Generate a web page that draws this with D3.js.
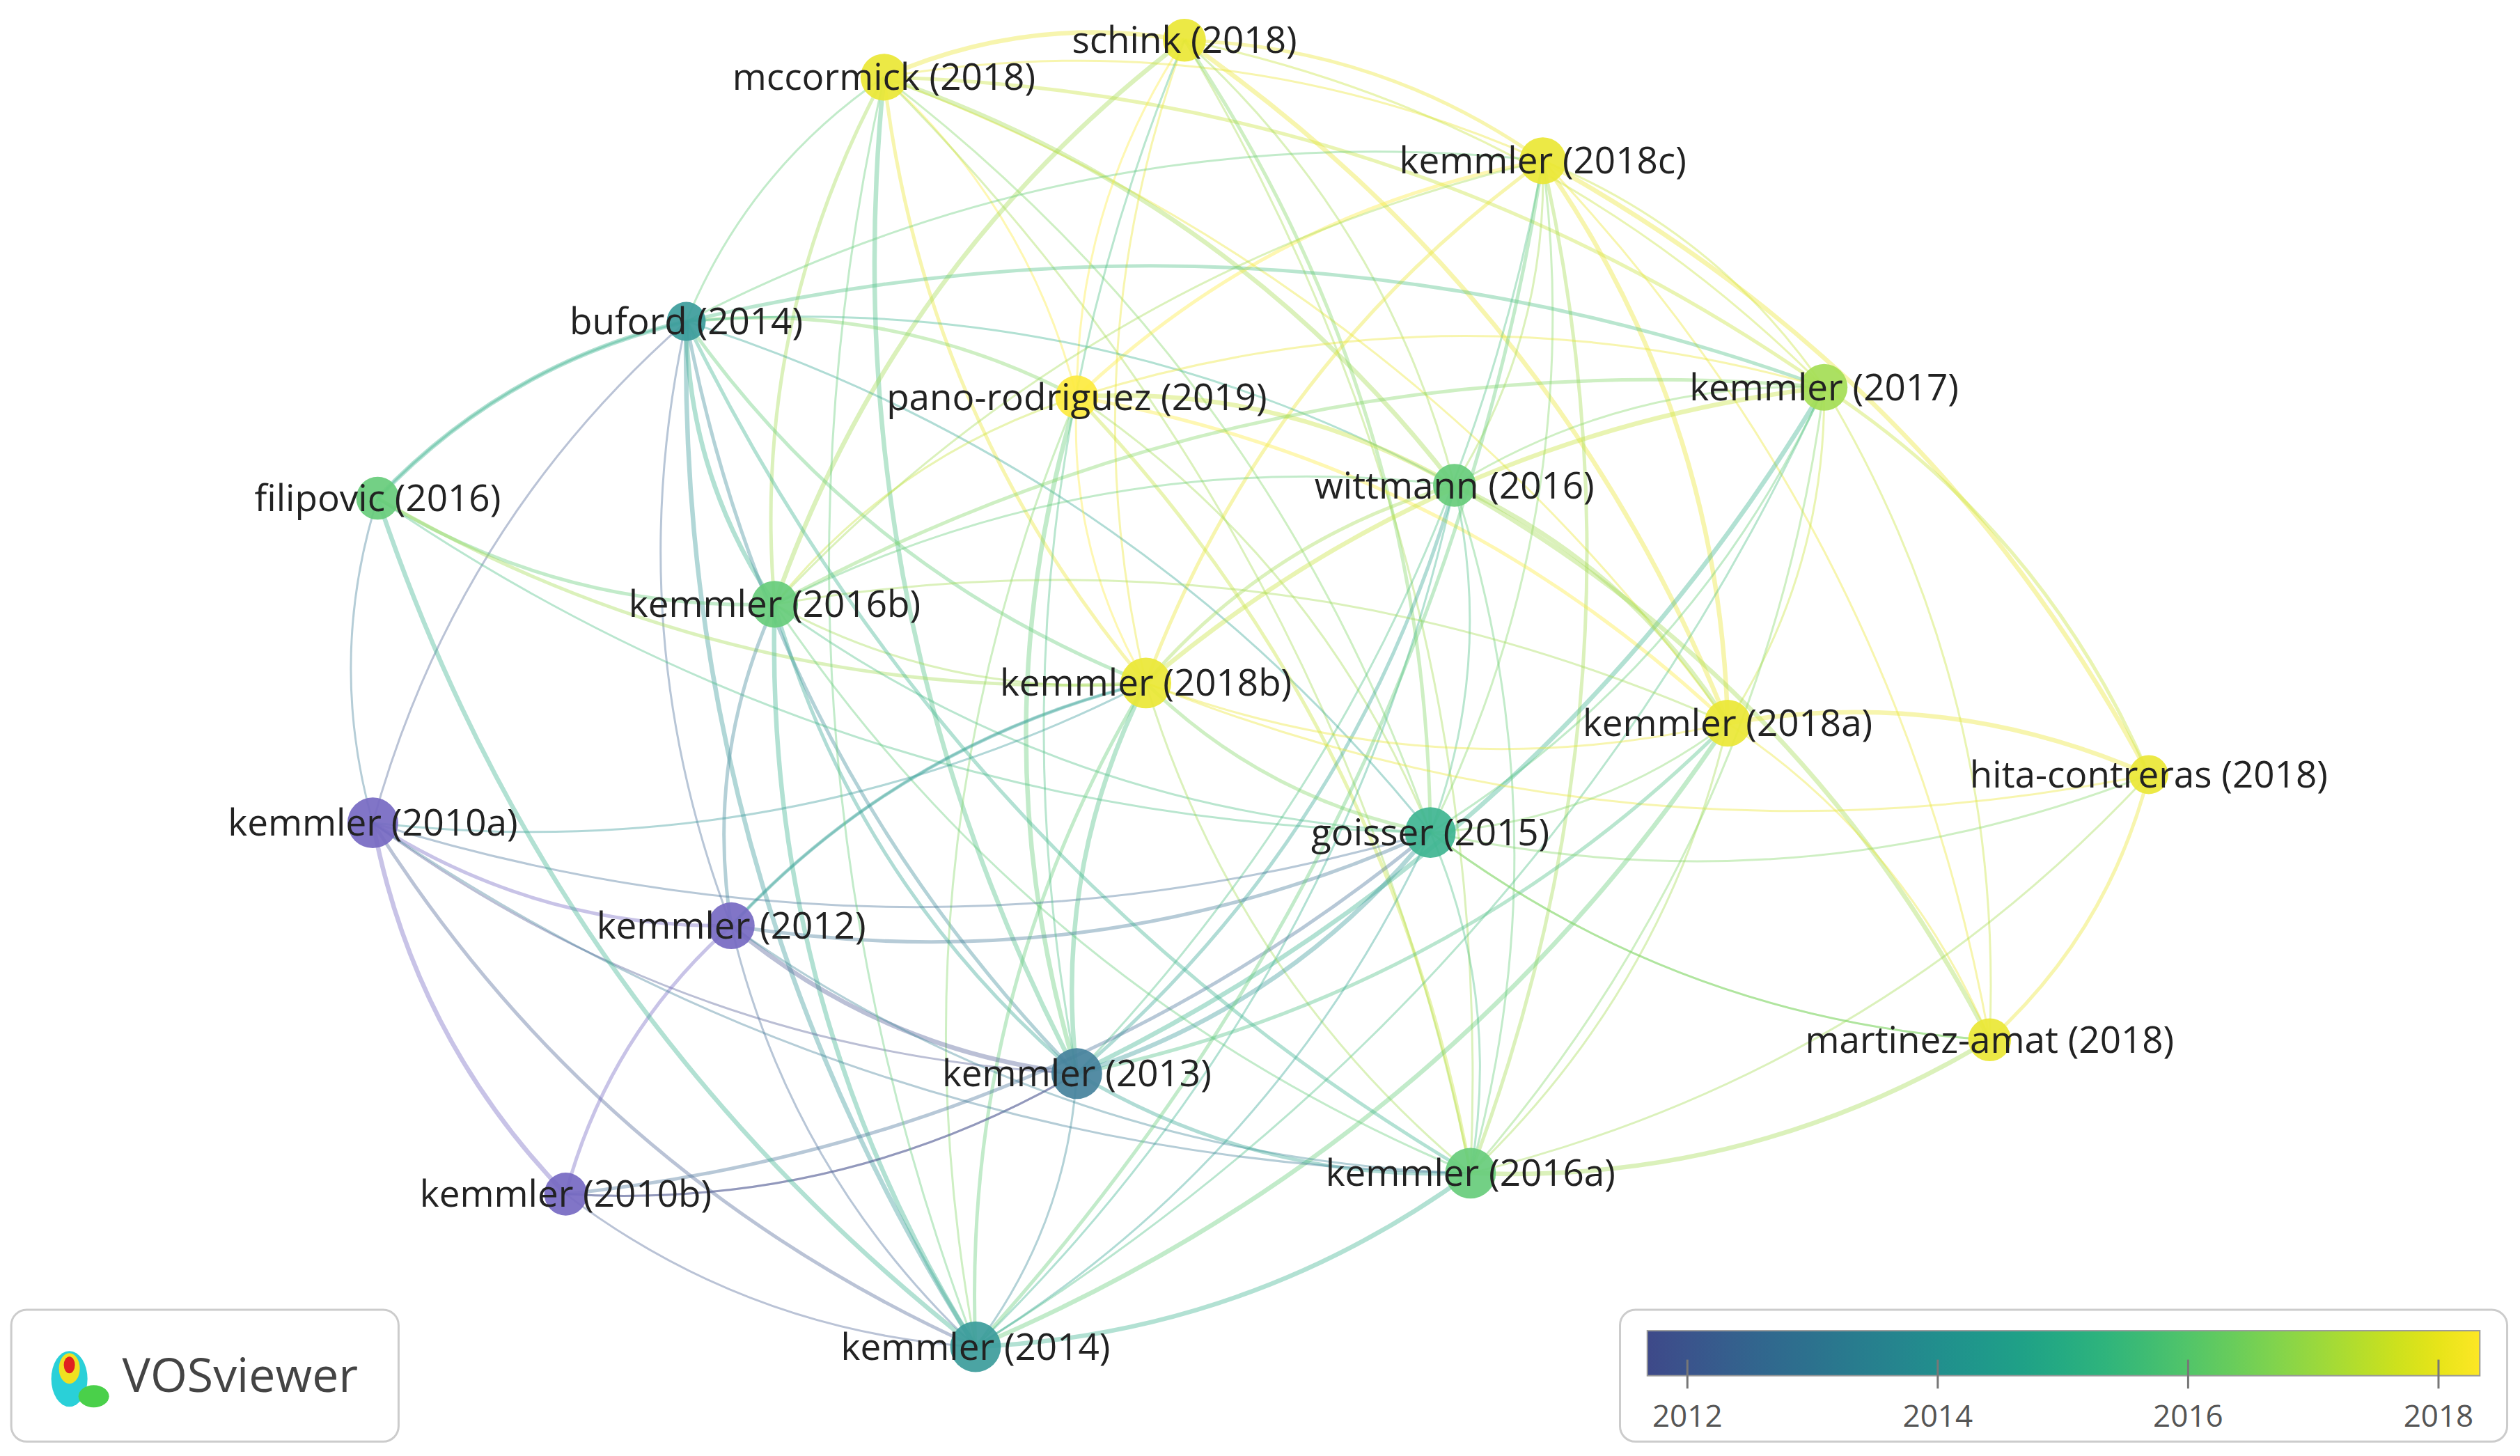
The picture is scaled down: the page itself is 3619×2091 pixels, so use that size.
<!DOCTYPE html>
<html><head><meta charset="utf-8">
<script src="https://cdnjs.cloudflare.com/ajax/libs/d3/7.8.5/d3.min.js"></script>
<style>body{margin:0;background:#fff}svg{display:block}</style>
</head><body><svg id="c" width="3619" height="2091"></svg>
<script>
const labels=["mccormick (2018)","schink (2018)","kemmler (2018c)","buford (2014)","pano-rodriguez (2019)","kemmler (2017)","filipovic (2016)","wittmann (2016)","kemmler (2016b)","kemmler (2018b)","kemmler (2018a)","hita-contreras (2018)","kemmler (2010a)","goisser (2015)","kemmler (2012)","martinez-amat (2018)","kemmler (2013)","kemmler (2016a)","kemmler (2010b)","kemmler (2014)"];
const years=[2018,2018,2018,2014,2019,2017,2016,2016,2016,2018,2018,2018,2010,2015,2010.5,2018,2013,2016,2010,2014];
const nodeX=[550,737,960,427,670,1135,235,905,482,713,1075,1337,232,890,455,1238,670,915,352,607];
const nodeY=[48,25,100,200,247,241,310,302,376,425,450,482,512,518,576,647,668,730,743,838];
const sizes=[1.2,1.1,1.2,1.0,1.1,1.2,1.1,1.1,1.2,1.3,1.2,1.0,1.3,1.3,1.2,1.1,1.3,1.3,1.1,1.3];
const links=[[0,1],[0,2],[0,4],[0,9],[0,10],[0,7],[0,5],[0,13],[0,3],[0,8],[0,16],[0,17],[1,2],[1,4],[1,9],[1,10],[1,5],[1,7],[1,13],[1,17],[1,8],[2,4],[2,5],[2,7],[2,9],[2,10],[2,13],[2,17],[2,16],[2,3],[2,11],[2,15],[2,8],[3,4],[3,6],[3,8],[3,9],[3,12],[3,14],[3,16],[3,19],[3,7],[3,5],[3,13],[4,5],[4,7],[4,8],[4,9],[4,10],[4,13],[4,16],[4,17],[4,19],[5,7],[5,8],[5,9],[5,10],[5,11],[5,13],[5,15],[5,16],[5,17],[5,19],[6,8],[6,12],[6,3],[6,9],[6,13],[7,8],[7,9],[7,10],[7,13],[7,16],[7,17],[7,19],[7,15],[8,9],[8,13],[8,16],[8,17],[8,19],[8,14],[8,10],[9,10],[9,13],[9,16],[9,17],[9,19],[9,14],[9,11],[10,11],[10,13],[10,15],[10,16],[10,17],[10,19],[11,15],[11,17],[11,13],[12,14],[12,18],[12,16],[12,19],[12,13],[12,9],[13,16],[13,17],[13,19],[13,14],[13,15],[14,16],[14,18],[14,19],[14,17],[14,9],[15,17],[15,13],[16,17],[16,18],[16,19],[17,19],[18,19],[18,16],[18,13],[12,17],[6,19],[3,17],[0,19],[1,16],[2,19]];
const legendTicks=[2012,2014,2016,2018];

const svg=d3.select("#c");
const k=3619/1568;
const sx=d3.scaleLinear().domain([0,1568]).range([0,1568*k]);
const sy=d3.scaleLinear().domain([0,905]).range([0,905*k]);
const yr=d3.scaleLinear().domain([2011.68,2018.33]).range([0.22,1]).clamp(true);
const col=y=>{if(y<2011.5)return d3.color("#7669c2");let c=d3.color(d3.interpolateViridis(yr(y)));return d3.interpolateRgb(c,"#fff")(0.12);};
const cx=d=>sx(nodeX[d]),cy=d=>sy(nodeY[d]);
const cxm=(nodeX.reduce((a,b)=>a+b)/nodeX.length),cym=(nodeY.reduce((a,b)=>a+b)/nodeY.length);
const g=svg.append("g");
links.forEach(([a,b],i)=>{
  const x1=cx(a),y1=cy(a),x2=cx(b),y2=cy(b);
  const mx=(x1+x2)/2,my=(y1+y2)/2,dx=x2-x1,dy=y2-y1,L=Math.hypot(dx,dy);
  let nx=-dy/L,ny=dx/L;
  const ox=mx-sx(cxm),oy=my-sy(cym);
  if(nx*ox+ny*oy<0){nx=-nx;ny=-ny;}
  const b2=L*0.15;
  const y=(years[a]+years[b])/2;
  g.append("path").attr("d",`M${x1},${y1}Q${mx+nx*b2},${my+ny*b2} ${x2},${y2}`)
   .attr("fill","none").attr("stroke",d3.color(col(y)).formatHex()).attr("stroke-opacity",0.4)
   .attr("stroke-width",2.5+(i%5===0?4:i%3===0?2.5:0.5));
});
labels.forEach((l,i)=>{
  svg.append("circle").attr("cx",cx(i)).attr("cy",cy(i)).attr("r",sizes[i]*28)
   .attr("fill",d3.color(col(years[i])).formatHex()).attr("fill-opacity",0.92);
});
labels.forEach((l,i)=>{
  svg.append("text").attr("x",cx(i)).attr("y",cy(i)).attr("dy","0.35em").attr("text-anchor","middle")
   .attr("font-family","Open Sans").attr("font-size",53).attr("fill","#222").text(l);
});
svg.append("rect").attr("x",sx(7)).attr("y",sy(815)).attr("width",sx(241)).attr("height",sy(82)).attr("rx",22)
 .attr("fill","#fff").attr("stroke","#ccc").attr("stroke-width",3);
const lg=svg.append("g").attr("transform",`translate(${sx(28)},${sy(832)})`);
lg.append("ellipse").attr("cx",35).attr("cy",60).attr("rx",26).attr("ry",40).attr("fill","#2ad0d8");
lg.append("ellipse").attr("cx",70).attr("cy",85).attr("rx",22).attr("ry",16).attr("fill","#4ad04a");
lg.append("ellipse").attr("cx",35).attr("cy",45).attr("rx",15).attr("ry",22).attr("fill","#f0e020");
lg.append("ellipse").attr("cx",35).attr("cy",40).attr("rx",8).attr("ry",12).attr("fill","#e02020");
svg.append("text").attr("x",sx(76)).attr("y",sy(856)).attr("dy","0.35em").attr("font-family","Open Sans")
 .attr("font-size",68).attr("fill","#444").text("VOSviewer");
svg.append("rect").attr("x",sx(1008)).attr("y",sy(815)).attr("width",sx(552)).attr("height",sy(82)).attr("rx",22)
 .attr("fill","#fff").attr("stroke","#ccc").attr("stroke-width",3);
const defs=svg.append("defs");const gr=defs.append("linearGradient").attr("id","gr");
d3.range(0,1.001,0.05).forEach(t=>gr.append("stop").attr("offset",t).attr("stop-color",d3.interpolateViridis(0.22+0.78*t)));
svg.append("rect").attr("x",sx(1025)).attr("y",sy(828)).attr("width",sx(518)).attr("height",sy(28)).attr("fill","url(#gr)").attr("stroke","#999").attr("stroke-width",2);
const lx=d3.scaleLinear().domain([2011.68,2018.33]).range([sx(1025),sx(1543)]);
legendTicks.forEach(t=>{
  svg.append("line").attr("x1",lx(t)).attr("x2",lx(t)).attr("y1",sy(846)).attr("y2",sy(864)).attr("stroke","#777").attr("stroke-width",3);
  svg.append("text").attr("x",lx(t)).attr("y",sy(881)).attr("dy","0.35em").attr("text-anchor","middle")
   .attr("font-family","Open Sans").attr("font-size",44).attr("fill","#555").text(t);
});
</script></body></html>
